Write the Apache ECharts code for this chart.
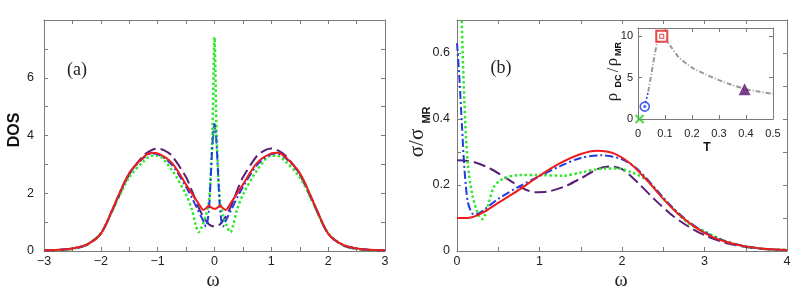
<!DOCTYPE html>
<html>
<head>
<meta charset="utf-8">
<script src="https://cdn.jsdelivr.net/npm/echarts@6/dist/echarts.min.js"></script>
<style>html,body{margin:0;padding:0;background:#fff}#c{width:797px;height:299px}</style>
</head>
<body>
<div id="c"></div>
<script>
// ---------- Panel (a): DOS vs omega ----------
const wRedA   = [-3,-2.75,-2.5,-2.25,-2,-1.75,-1.5,-1.25,-1.1,-1,-0.75,-0.5,-0.4,-0.3,-0.25,-0.2,-0.15,-0.1,-0.05,0,0.05,0.1,0.15,0.2,0.25,0.3,0.4,0.5,0.75,1,1.1,1.25,1.5,1.75,2,2.25,2.5,2.75,3];
const dosRed  = [0.02,0.04,0.09,0.22,0.6,1.65,2.7,3.25,3.4,3.38,3.05,2.3,2.0,1.7,1.55,1.42,1.48,1.57,1.5,1.46,1.5,1.57,1.48,1.42,1.55,1.7,2.0,2.3,3.05,3.38,3.4,3.25,2.7,1.65,0.6,0.22,0.09,0.04,0.02];

const wGreenA  = [-3,-2.75,-2.5,-2.25,-2,-1.75,-1.5,-1.25,-1.1,-1,-0.75,-0.5,-0.4,-0.33,-0.28,-0.22,-0.15,-0.1,-0.07,-0.035,-0.015,0,0.015,0.035,0.07,0.1,0.15,0.22,0.28,0.33,0.4,0.5,0.75,1,1.1,1.25,1.5,1.75,2,2.25,2.5,2.75,3];
const dosGreen = [0.01,0.03,0.08,0.22,0.62,1.6,2.55,3.1,3.3,3.3,2.8,1.95,1.45,0.9,0.65,0.85,1.25,1.7,2.5,4.2,6.3,7.4,6.3,4.2,2.5,1.7,1.25,0.85,0.65,0.9,1.45,1.95,2.8,3.3,3.3,3.1,2.55,1.6,0.62,0.22,0.08,0.03,0.01];

const wBlueA  = [-3,-2.75,-2.5,-2.25,-2,-1.75,-1.5,-1.25,-1.1,-1,-0.75,-0.5,-0.4,-0.3,-0.2,-0.15,-0.1,-0.06,-0.03,0,0.03,0.06,0.1,0.15,0.2,0.3,0.4,0.5,0.75,1,1.1,1.25,1.5,1.75,2,2.25,2.5,2.75,3];
const dosBlue = [0.02,0.04,0.09,0.22,0.6,1.65,2.68,3.22,3.38,3.36,2.98,2.22,1.85,1.45,1.05,0.85,1.4,2.8,3.9,4.4,3.9,2.8,1.4,0.85,1.05,1.45,1.85,2.22,2.98,3.36,3.38,3.22,2.68,1.65,0.6,0.22,0.09,0.04,0.02];

const wTealA  = [-0.03,-0.015,0,0.015,0.03];
const dosTeal = [3.7,4.15,4.4,4.15,3.7];

const wPurpA  = [-3,-2.75,-2.5,-2.25,-2,-1.75,-1.5,-1.25,-1.1,-1,-0.9,-0.75,-0.5,-0.4,-0.3,-0.2,-0.1,0,0.1,0.2,0.3,0.4,0.5,0.75,0.9,1,1.1,1.25,1.5,1.75,2,2.25,2.5,2.75,3];
const dosPurp = [0.02,0.03,0.07,0.2,0.6,1.6,2.65,3.3,3.5,3.55,3.5,3.3,2.55,2.1,1.6,1.2,0.93,0.85,0.93,1.2,1.6,2.1,2.55,3.3,3.5,3.55,3.5,3.3,2.65,1.6,0.6,0.2,0.07,0.03,0.02];

// ---------- Panel (b): sigma/sigma_MR vs omega ----------
const wRedB   = [0,0.15,0.3,0.5,0.75,1.0,1.25,1.5,1.7,1.9,2.1,2.3,2.5,2.7,2.9,3.1,3.3,3.5,3.75,4];
const sigRed  = [0.1,0.101,0.115,0.146,0.185,0.228,0.266,0.294,0.304,0.296,0.265,0.215,0.158,0.108,0.07,0.042,0.025,0.014,0.006,0.003];

const wBlueB  = [0,0.03,0.06,0.09,0.13,0.18,0.22,0.3,0.5,0.75,1.0,1.25,1.5,1.75,2.0,2.2,2.4,2.6,2.8,3.0,3.2,3.5,3.75,4];
const sigBlue = [0.63,0.52,0.38,0.25,0.15,0.115,0.11,0.12,0.158,0.195,0.227,0.257,0.282,0.29,0.278,0.245,0.19,0.135,0.09,0.057,0.034,0.014,0.006,0.003];

const wGreenB  = [0,0.03,0.057,0.09,0.13,0.19,0.27,0.31,0.37,0.45,0.55,0.75,1.0,1.3,1.5,1.8,1.95,2.1,2.3,2.5,2.8,3.0,3.25,3.5,3.75,4];
const sigGreen = [1.5,1.0,0.7,0.45,0.267,0.165,0.104,0.097,0.134,0.195,0.218,0.23,0.23,0.228,0.238,0.25,0.25,0.24,0.215,0.16,0.085,0.06,0.03,0.014,0.006,0.003];

const wPurpB  = [0,0.2,0.4,0.6,0.8,0.95,1.1,1.3,1.5,1.7,1.85,2.0,2.2,2.4,2.6,2.8,3.0,3.25,3.5,3.75,4];
const sigPurp = [0.275,0.27,0.25,0.22,0.19,0.178,0.18,0.195,0.22,0.248,0.256,0.248,0.205,0.155,0.11,0.075,0.048,0.025,0.012,0.005,0.002];

// ---------- Inset: rho_DC/rho_MR vs T ----------
const tGrey   = [0.038,0.055,0.072,0.088,0.1,0.125,0.15,0.2,0.25,0.3,0.35,0.4,0.45,0.5];
const rhoGrey = [3.3,6.5,9.3,10,9.7,8.6,7.5,6.2,5.4,4.7,4.1,3.6,3.3,3.05];
const tBlueSeg   = [0.025,0.038];
const rhoBlueSeg = [1.5,3.3];
const ptGreen  = [0.006,0.0];
const ptBlue   = [0.025,1.5];
const ptRed    = [0.088,10];
const ptPurple = [0.395,3.6];

// ---------- tick labels ----------
const ticksXA = [-3,-2,-1,0,1,2,3];
const ticksYA = [0,2,4,6];
const ticksXB = [0,1,2,3,4];
const ticksYB = [0,0.2,0.4,0.6];
const ticksXI = [0,0.1,0.2,0.3,0.4,0.5];
const ticksYI = [0,5,10];

const pairs = (xs, ys) => xs.map((x, i) => [x, ys[i]]);
const frame = '#7a7a7a';
const RED = '#ee1c1c', BLUE = '#1f3de0', GREEN = '#2ee82e', PURPLE = '#5a1f78', TEAL = '#2b8c8c', GREY = '#9a9a9a';

function near(v, list){ return list.some(t => Math.abs(t - v) < 1e-6); }
function fmtNum(v){
  const s = (Math.round(v*1000)/1000).toString();
  return s.replace('-', '\u2212');
}
function xAx(grid, min, max, interval, labels, top, fs, margin){
  return {
    type:'value', gridIndex:grid, min:min, max:max, interval:interval,
    position: top ? 'top' : 'bottom',
    axisLine:{show:true, onZero:false, lineStyle:{color:frame, width:1}},
    axisTick:{show:true, inside:true, length:4, lineStyle:{color:frame}},
    splitLine:{show:false},
    axisLabel: top ? {show:false} : {show:true, fontFamily:'Liberation Sans', fontSize:fs, color:'#222', margin:margin,
      formatter: v => near(v, labels) ? fmtNum(v) : ''}
  };
}
function yAx(grid, min, max, interval, labels, right, fs, margin){
  return {
    type:'value', gridIndex:grid, min:min, max:max, interval:interval,
    position: right ? 'right' : 'left',
    axisLine:{show:true, onZero:false, lineStyle:{color:frame, width:1}},
    axisTick:{show:true, inside:true, length:4, lineStyle:{color:frame}},
    splitLine:{show:false},
    axisLabel: right ? {show:false} : {show:true, fontFamily:'Liberation Sans', fontSize:fs, color:'#222', margin:margin,
      formatter: v => near(v, labels) ? fmtNum(v) : ''}
  };
}
function line(xi, yi, data, color, type, width, z){
  return {type:'line', xAxisIndex:xi, yAxisIndex:yi, data:data, smooth:0.3,
    showSymbol:false, symbol:'none', animation:false, clip:true, z:z||2,
    lineStyle:{color:color, width:width, type:type, cap:'butt'}};
}

const chart = echarts.init(document.getElementById('c'));
const option = {
  backgroundColor:'#fff',
  animation:false,
  grid:[
    {left:44, top:20, width:341, height:231},
    {left:457, top:20, width:330, height:231},
    {left:638, top:28, width:135, height:91, backgroundColor:'#fff', show:true, borderWidth:0, z:5}
  ],
  xAxis:[
    xAx(0,-3,3,0.5,ticksXA,false,12.5,4),
    xAx(0,-3,3,0.5,ticksXA,true,12.5,4),
    xAx(1,0,4,0.5,ticksXB,false,12.5,4),
    xAx(1,0,4,0.5,ticksXB,true,12.5,4),
    Object.assign(xAx(2,0,0.5,0.1,ticksXI,false,11,9),{z:6}),
    Object.assign(xAx(2,0,0.5,0.1,[],true,10,9),{z:6})
  ],
  yAxis:[
    yAx(0,0,8,1,ticksYA,false,12.5,10),
    yAx(0,0,8,1,ticksYA,true,12.5,10),
    yAx(1,0,0.7,0.1,ticksYB,false,12.5,7),
    yAx(1,0,0.7,0.1,ticksYB,true,12.5,7),
    Object.assign(yAx(2,0,11,5,ticksYI,false,11,5),{z:6}),
    Object.assign(yAx(2,0,11,5,[],true,10,5),{z:6})
  ],
  series:[
    line(0,0,pairs(wPurpA,dosPurp),PURPLE,[12,5],2,2),
    line(0,0,pairs(wGreenA,dosGreen),GREEN,[2.5,2.5],2.5,3),
    line(0,0,pairs(wBlueA,dosBlue),BLUE,[8,3,2,3],2,4),
    line(0,0,pairs(wTealA,dosTeal),TEAL,[2,2],2,5),
    line(0,0,pairs(wRedA,dosRed),RED,'solid',2,6),

    line(2,2,pairs(wPurpB,sigPurp),PURPLE,[12,5],2,2),
    line(2,2,pairs(wGreenB,sigGreen),GREEN,[2.5,2.5],2.5,3),
    line(2,2,pairs(wBlueB,sigBlue),BLUE,[8,3,2,3],2,4),
    line(2,2,pairs(wRedB,sigRed),RED,'solid',2,5),

    Object.assign(line(4,4,pairs(tGrey,rhoGrey),GREY,[5,2,1,2],2,7),{smooth:0.25}),
    Object.assign(line(4,4,pairs(tBlueSeg,rhoBlueSeg),BLUE,[2,2],1.5,7),{smooth:false}),
    {type:'scatter', xAxisIndex:4, yAxisIndex:4, data:[ptGreen], symbol:'path://M0,0L10,10M10,0L0,10', symbolSize:8,
      itemStyle:{color:'none', borderColor:'#22cc22', borderWidth:2}, z:8, clip:false, animation:false},
    {type:'scatter', xAxisIndex:4, yAxisIndex:4, data:[ptBlue], symbol:'circle', symbolSize:9,
      itemStyle:{color:'#fff', borderColor:BLUE, borderWidth:1.6}, z:8, clip:false, animation:false},
    {type:'scatter', xAxisIndex:4, yAxisIndex:4, data:[ptBlue], symbol:'circle', symbolSize:3,
      itemStyle:{color:BLUE}, z:9, clip:false, animation:false},
    {type:'scatter', xAxisIndex:4, yAxisIndex:4, data:[ptRed], symbol:'rect', symbolSize:11,
      itemStyle:{color:'#fff', borderColor:'#e01818', borderWidth:2}, z:8, clip:false, animation:false},
    {type:'scatter', xAxisIndex:4, yAxisIndex:4, data:[ptRed], symbol:'rect', symbolSize:4,
      itemStyle:{color:'#fff', borderColor:'#e01818', borderWidth:1}, z:9, clip:false, animation:false},
    {type:'scatter', xAxisIndex:4, yAxisIndex:4, data:[ptPurple], symbol:'triangle', symbolSize:12,
      itemStyle:{color:'#5a1070'}, z:8, clip:false, animation:false}
  ],
  graphic:[
    {type:'text', x:77, y:70, style:{text:'(a)', font:'18px "Liberation Serif"', fill:'#222', align:'center', verticalAlign:'middle'}},
    {type:'text', x:501, y:68, style:{text:'(b)', font:'18px "Liberation Serif"', fill:'#222', align:'center', verticalAlign:'middle'}},
    {type:'text', x:15, y:130, rotation:Math.PI/2, style:{text:'DOS', font:'bold 16px "Liberation Sans"', fill:'#111', align:'center', verticalAlign:'middle'}},
    {type:'text', x:213, y:281, style:{text:'ω', font:'20px "Liberation Serif"', fill:'#222', align:'center', verticalAlign:'middle'}},
    {type:'text', x:621, y:281, style:{text:'ω', font:'20px "Liberation Serif"', fill:'#222', align:'center', verticalAlign:'middle'}},
    {type:'text', x:417, y:143, rotation:Math.PI/2, style:{text:'σ/σ', font:'21px "Liberation Serif"', fill:'#222', align:'center', verticalAlign:'middle'}},
    {type:'text', x:427, y:115, rotation:Math.PI/2, style:{text:'MR', font:'bold 11px "Liberation Sans"', fill:'#111', align:'center', verticalAlign:'middle'}},
    {type:'text', x:707, y:148, style:{text:'T', font:'bold 12px "Liberation Sans"', fill:'#111', align:'center', verticalAlign:'middle'}},
    {type:'text', x:613, y:97, rotation:Math.PI/2, style:{text:'ρ', font:'17px "Liberation Serif"', fill:'#222', align:'center', verticalAlign:'middle'}},
    {type:'text', x:619, y:81, rotation:Math.PI/2, style:{text:'DC', font:'bold 9px "Liberation Sans"', fill:'#111', align:'center', verticalAlign:'middle'}},
    {type:'text', x:614, y:70, rotation:Math.PI/2, style:{text:'/', font:'16px "Liberation Serif"', fill:'#222', align:'center', verticalAlign:'middle'}},
    {type:'text', x:613, y:62, rotation:Math.PI/2, style:{text:'ρ', font:'17px "Liberation Serif"', fill:'#222', align:'center', verticalAlign:'middle'}},
    {type:'text', x:619, y:49, rotation:Math.PI/2, style:{text:'MR', font:'bold 9px "Liberation Sans"', fill:'#111', align:'center', verticalAlign:'middle'}}
  ]
};
chart.setOption(option);
</script>
</body>
</html>
